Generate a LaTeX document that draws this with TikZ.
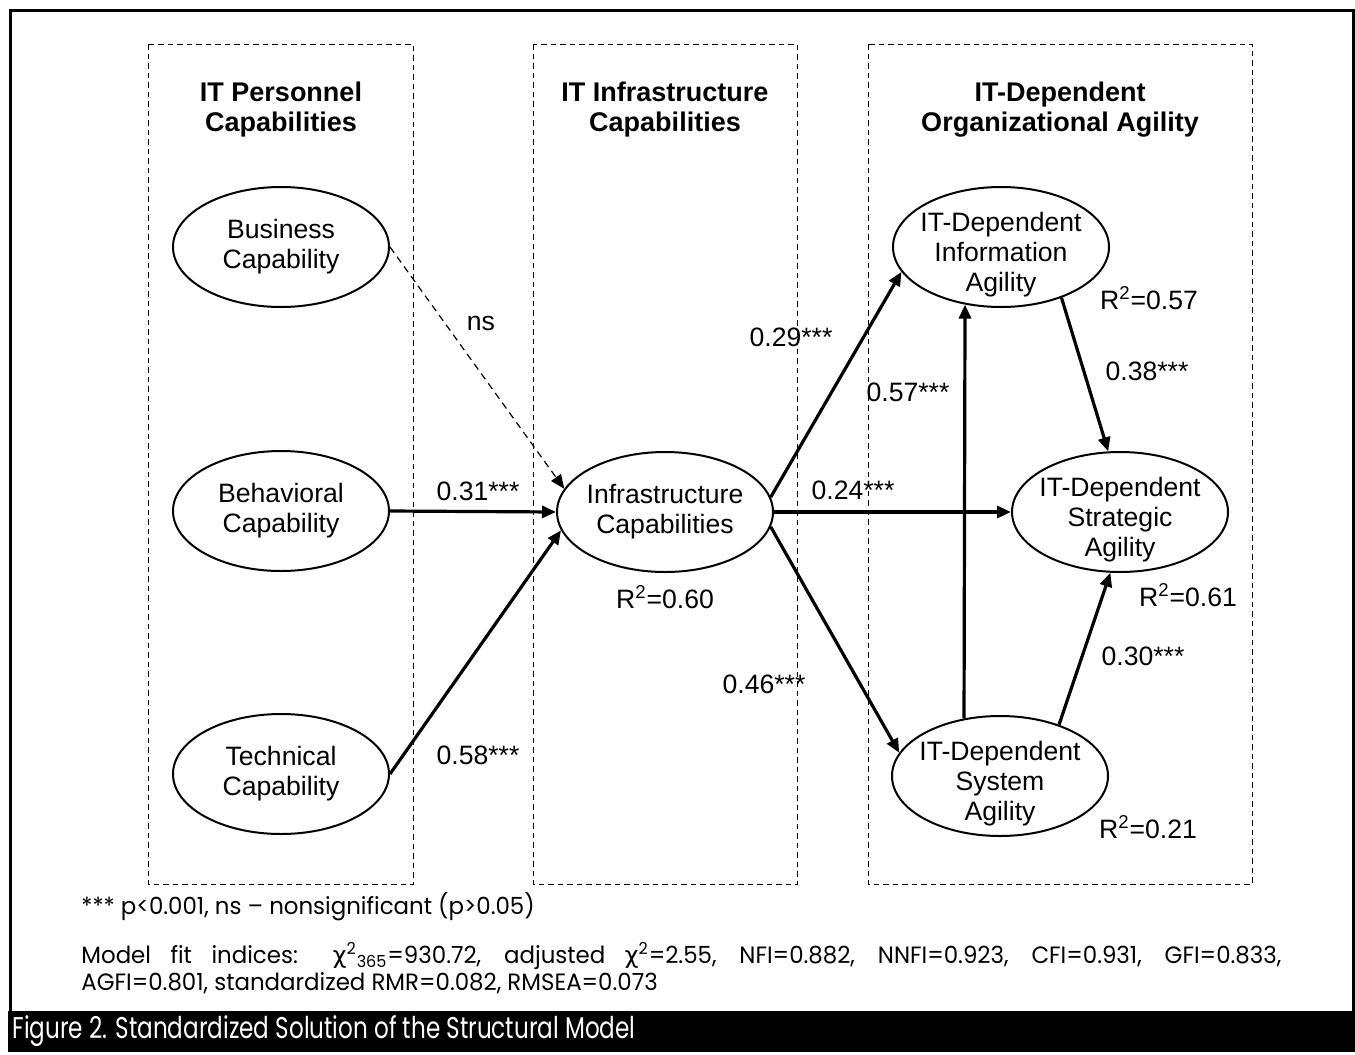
\documentclass[tikz,border=0pt]{standalone}
\usepackage{fontspec}
\setmainfont{Liberation Sans}
\newfontfamily\futura[FakeStretch=0.97]{Poppins}
\newfontfamily\futuracap[FakeStretch=0.77]{Poppins}
\newfontfamily\greek{DejaVu Sans}
\usetikzlibrary{shapes.geometric,arrows.meta,positioning}
\newcommand{\dropline}{\rule{0pt}{17.5pt}}

\tikzset{
  pane/.style={draw=black, line width=0.5pt, dash pattern=on 2.75pt off 2pt},
  header/.style={align=center, font=\bfseries\fontsize{13.5}{15}\selectfont},
  latent/.style={ellipse, draw=black, line width=1pt, minimum width=108pt,
    minimum height=60pt, inner xsep=-9pt, inner ysep=-4pt, align=center},
  effect/.style={draw=black, line width=1.6pt, -{Triangle[length=7pt,width=6pt]}},
  coef/.style={inner sep=0pt},
  note/.style={inner sep=0pt, align=left, font=\futura\fontsize{11.8}{13.5}\selectfont},
  caption/.style={inner sep=0pt, text=white, font=\futuracap\fontsize{15}{18}\selectfont}
}

\begin{document}
\begin{tikzpicture}[x=0.5pt, y=-0.5pt, font=\fontsize{13.3}{15}\selectfont]
   \useasboundingbox (0,0) rectangle (1355,1055);
   \draw[line width=1.5pt] (10.5,1011) -- (10.5,10.5) -- (1353.5,10.5) -- (1353.5,1011);
   \fill[black] (8,1011) rectangle (1355,1052);
   \node[caption, anchor=west] (cap) at (12,1031) {Figure 2. Standardized Solution of the Structural Model};
   \draw[pane] (148,44) rectangle (413,884);
   \draw[pane] (533,44) rectangle (797,884);
   \draw[pane] (868,44) rectangle (1252,884);
   \node[header] (hpers) at (281,110) {IT Personnel\\Capabilities};
   \node[header] (hinfra) at (665,110) {IT Infrastructure\\Capabilities};
   \node[header] (hagil) at (1060,110) {IT-Dependent\\Organizational Agility};
   \begin{scope}[every node/.style={latent}]
    \node (bus) at (281,247) {Business\\Capability};
    \node (beh) at (281,511) {Behavioral\\Capability};
    \node (tec) at (281,774) {Technical\\Capability};
    \node (infra) at (665,512) {Infrastructure\\Capabilities};
    \node (info) at (1001,247) {\dropline IT-Dependent\\Information\\Agility};
    \node (strat) at (1120,512) {\dropline IT-Dependent\\Strategic\\Agility};
    \node (sys) at (1000,776) {\dropline IT-Dependent\\System\\Agility};
   \end{scope}
   \begin{scope}[every edge/.style={effect}]
    \draw (bus.east) edge [line width=0.6pt, dash pattern=on 3.5pt off 2.5pt] (infra.167);
    \draw (beh.east) edge (infra.west);
    \draw (tec.east) edge (infra.190);
    \draw (infra.8) edge (info.194);
    \draw (infra.east) edge (strat.west);
    \draw (infra.352) edge (sys.167);
    \draw (sys.122) edge (info.238);
    \draw (info.320) edge (strat.101);
    \draw (sys.41) edge (strat.261);
   \end{scope}
   \begin{scope}[every node/.style={coef}]
    \node (lns) at (481,323) {ns};
    \node (lbeh) at (478,491) {0.31***};
    \node (ltec) at (478,755) {0.58***};
    \node (rinfra) at (665,597) {R\textsuperscript{2}=0.60};
    \node (linfo) at (791,337) {0.29***};
    \node (lstrat) at (853,490) {0.24***};
    \node (lsys) at (764,684) {0.46***};
    \node (lsysinfo) at (908,392) {0.57***};
    \node (rinfo) at (1149,298) {R\textsuperscript{2}=0.57};
    \node (linfostrat) at (1147,371) {0.38***};
    \node (rstrat) at (1188,595) {R\textsuperscript{2}=0.61};
    \node (lsysstrat) at (1143,656) {0.30***};
    \node (rsys) at (1148,827) {R\textsuperscript{2}=0.21};
   \end{scope}
   \node[note, anchor=west] (sig) at (81,907) {*** p<0.001, ns – nonsignificant (p>0.05)};
   \node[note, anchor=north west] (fit) at (81,942) {\makebox[600pt][s]{Model fit indices: {\greek χ}\textsuperscript{2}\textsubscript{365}=930.72, adjusted {\greek χ}\textsuperscript{2}=2.55, NFI=0.882, NNFI=0.923, CFI=0.931, GFI=0.833,}\\AGFI=0.801, standardized RMR=0.082, RMSEA=0.073};
\end{tikzpicture}
\end{document}
